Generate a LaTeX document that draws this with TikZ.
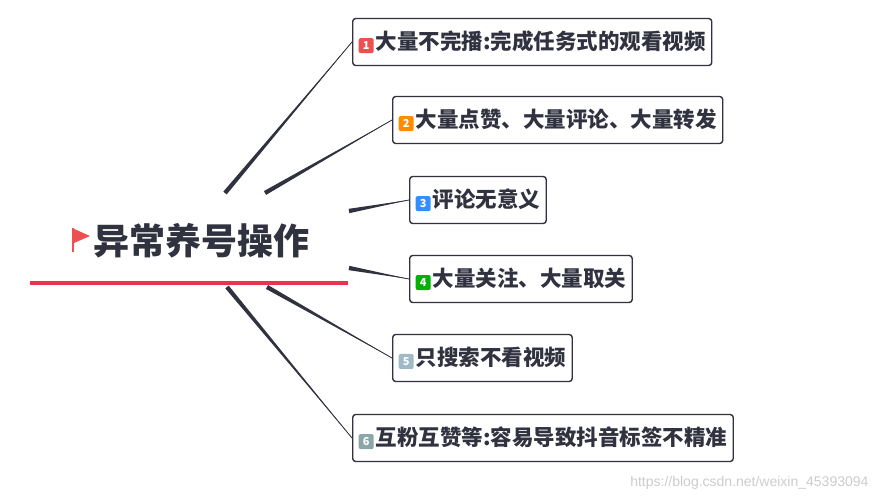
\documentclass[tikz,border=0pt]{standalone}
\usepackage{fontspec}
\setmainfont{Noto Sans CJK SC}
\newfontfamily\wmfont{Liberation Sans}
\usetikzlibrary{calc}

\definecolor{inkdark}{HTML}{30323F}
\definecolor{rootred}{HTML}{E8344E}
\definecolor{flagred}{HTML}{EE5050}

\tikzset{
  topic/.style={draw=inkdark,line width=1.4pt,rounded corners=3pt,fill=white,
    anchor=west,minimum height=47pt,inner xsep=6pt,text=inkdark,
    font=\fontsize{21.5}{21.5}\selectfont\bfseries},
  badge/.style={fill=#1,rounded corners=2pt,text=white,minimum size=15pt,
    inner sep=0pt,font=\fontsize{11}{11}\selectfont\bfseries},
}
\newcommand{\numbox}[2]{\tikz[baseline=(n.base),y=1pt]\node[badge=#1] (n) {#2};\hspace{2pt}}
\newcommand{\branch}[2]{%
  \fill[inkdark] ($(#1)!2.2pt!90:(#2)$) -- (#2) -- ($(#1)!2.2pt!-90:(#2)$) -- cycle;
  \draw[inkdark,line width=0.8pt] (#1) -- (#2);}

\begin{document}
\begin{tikzpicture}[x=1pt,y=-1pt]
	\useasboundingbox (0,0) rectangle (880,500);

	% central topic
	\node[text=inkdark,font=\fontsize{36}{36}\selectfont\bfseries,anchor=west] (root) at (90,241) {异常养号操作};
	\fill[flagred] (72,228) -- (90,236) -- (74,243) -- cycle;
	\draw[flagred,line width=2pt] (73,228) -- (73,252);
	\draw[rootred,line width=4pt] (30,283) -- (348,283);

	% subtopics
	\node[topic] (t1) at (352,42)  {\numbox{flagred}{1}大量不完播:完成任务式的观看视频};
	\node[topic] (t2) at (392,120) {\numbox{orange!90!yellow}{2}大量点赞、大量评论、大量转发};
	\node[topic] (t3) at (409,200) {\numbox{blue!55!cyan!80!white}{3}评论无意义};
	\node[topic] (t4) at (409,279) {\numbox{green!70!black}{4}大量关注、大量取关};
	\node[topic] (t5) at (392,358) {\numbox{cyan!30!gray!70}{5}只搜索不看视频};
	\node[topic] (t6) at (352,438) {\numbox{teal!30!gray!70}{6}互粉互赞等:容易导致抖音标签不精准};

	% branch roots
	\coordinate (r1) at (225,193);
	\coordinate (r2) at (265,193);
	\coordinate (r3) at (349,211);
	\coordinate (r4) at (349,268);
	\coordinate (r5) at (267,287);
	\coordinate (r6) at (227,287);

	\branch{r1}{t1.west}
	\branch{r2}{t2.west}
	\branch{r3}{t3.west}
	\branch{r4}{t4.west}
	\branch{r5}{t5.west}
	\branch{r6}{t6.west}

	\node[text=gray!40,font=\wmfont\fontsize{14}{14}\selectfont,anchor=east] (wm) at (872,483) {https://blog.csdn.net/weixin\_45393094};
\end{tikzpicture}
\end{document}
